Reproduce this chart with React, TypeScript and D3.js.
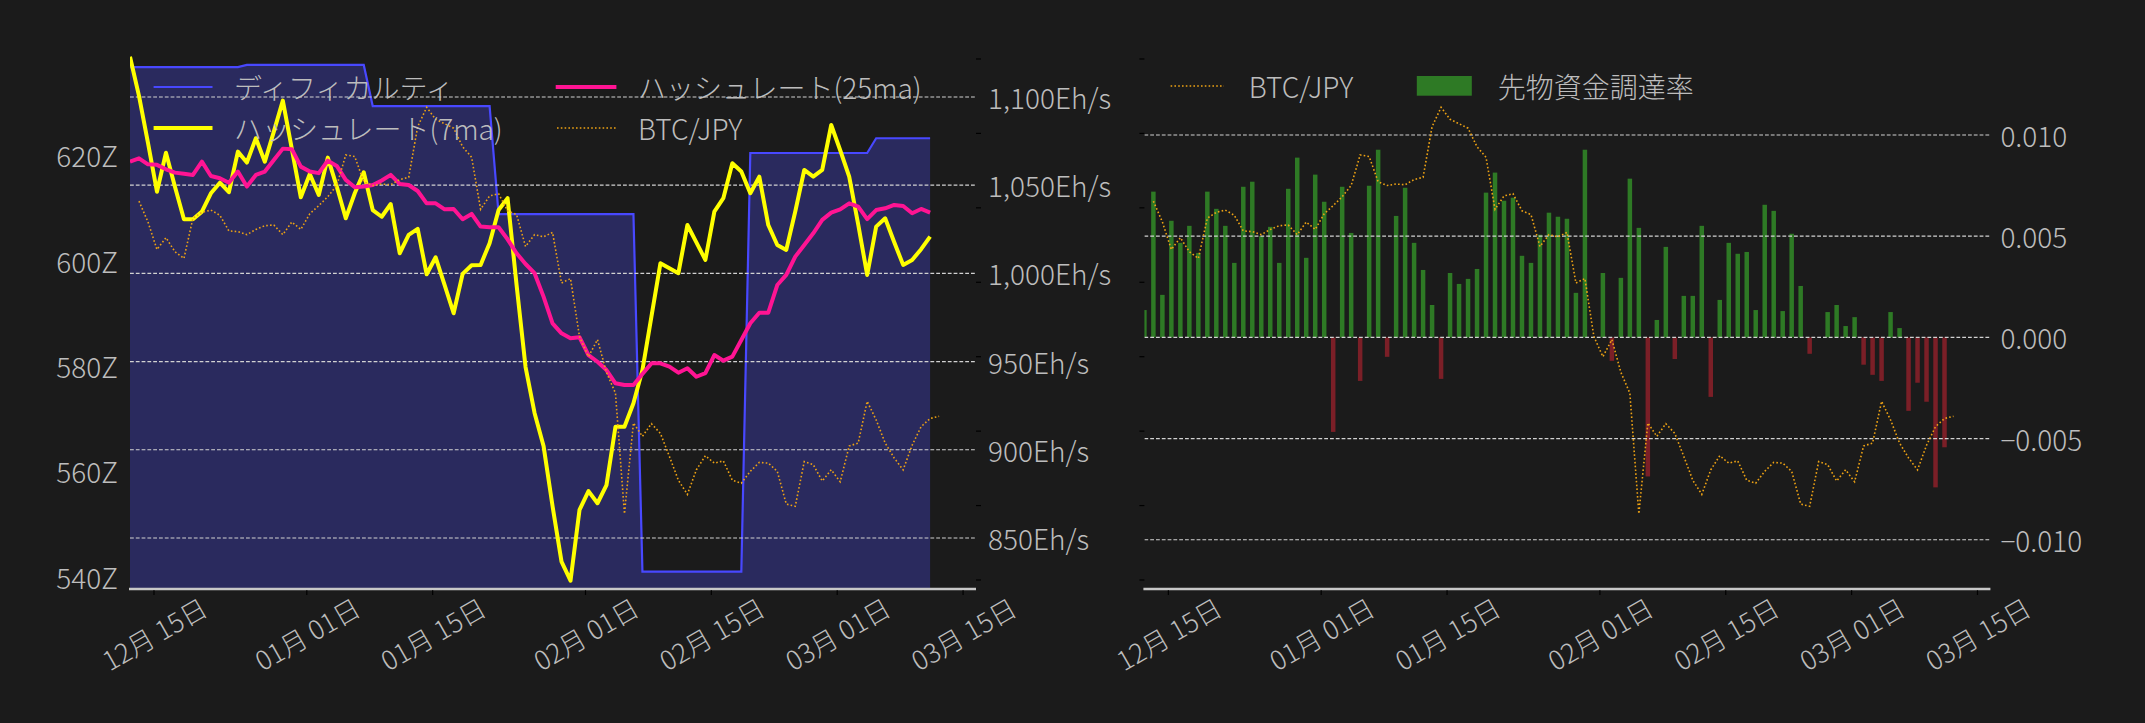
import * as d3 from "d3";

// ---- data (daily) ----
const START = new Date(2025, 11, 12, 8, 0); // first hashrate / funding day
const END = new Date(2026, 2, 16, 10, 30); // right edge of the x axis

// difficulty (Z), days 0..89
const difficulty = [
  636.7, 636.7, 636.7, 636.7, 636.7, 636.7, 636.7, 636.7, 636.7, 636.7, 636.7, 636.7, 636.7,
  637.1, 637.1, 637.1, 637.1, 637.1, 637.1, 637.1, 637.1, 637.1, 637.1, 637.1, 637.1, 637.1, 637.1,
  629.3, 629.3, 629.3, 629.3, 629.3, 629.3, 629.3, 629.3, 629.3, 629.3, 629.3, 629.3, 629.3, 629.3,
  608.8, 608.8, 608.8, 608.8, 608.8, 608.8, 608.8, 608.8, 608.8, 608.8, 608.8, 608.8, 608.8, 608.8, 608.8, 608.8,
  541.0, 541.0, 541.0, 541.0, 541.0, 541.0, 541.0, 541.0, 541.0, 541.0, 541.0, 541.0,
  620.4, 620.4, 620.4, 620.4, 620.4, 620.4, 620.4, 620.4, 620.4, 620.4, 620.4, 620.4, 620.4, 620.4,
  623.2, 623.2, 623.2, 623.2, 623.2, 623.2, 623.2,
];

// hashrate 7-day MA (EH/s), days 0..89
const hashrate7 = [
  1122.8, 1100.6, 1073.9, 1046.3, 1068.4, 1049.1, 1030.7, 1030.7, 1035.0, 1045.4,
  1051.4, 1046.0, 1069.0, 1062.8, 1076.6, 1063.3, 1080.3, 1097.9, 1070.5, 1043.1,
  1056.3, 1044.4, 1065.6, 1049.2, 1031.2, 1045.4, 1057.3, 1035.9, 1032.1, 1039.3,
  1011.4, 1021.8, 1025.2, 999.5, 1009.1, 993.3, 977.4, 999.7, 1004.6, 1004.8,
  1017.1, 1035.9, 1042.6, 993.4, 946.9, 920.9, 902.2, 868.1, 836.6, 825.8,
  865.9, 876.6, 869.7, 880.0, 913.1, 913.1, 926.4, 945.2, 975.5, 1005.7,
  1002.9, 1000.1, 1027.4, 1017.6, 1007.6, 1035.0, 1042.6, 1062.4, 1057.7, 1045.4,
  1054.8, 1027.4, 1016.1, 1013.3, 1035.1, 1058.6, 1054.8, 1058.6, 1084.1, 1069.8,
  1054.8, 1027.8, 999.1, 1026.5, 1031.2, 1017.8, 1004.8, 1007.6, 1013.7, 1020.8,
];

// hashrate 25-day MA (EH/s), days 0..89
const hashrate25 = [
  1063.3, 1065.2, 1061.8, 1061.5, 1059.0, 1057.1, 1056.4, 1055.8, 1063.3, 1055.2,
  1053.9, 1051.4, 1057.7, 1049.2, 1055.8, 1057.7, 1064.3, 1070.7, 1070.4, 1060.5,
  1057.7, 1056.8, 1063.9, 1060.9, 1053.0, 1048.8, 1049.2, 1050.1, 1052.6, 1055.8,
  1050.7, 1050.1, 1046.7, 1039.7, 1039.7, 1036.3, 1036.5, 1030.7, 1033.7, 1026.5,
  1026.1, 1026.1, 1019.3, 1011.4, 1005.3, 1000.1, 986.8, 971.7, 966.0, 963.2,
  963.8, 953.7, 949.9, 945.2, 937.7, 936.7, 936.7, 943.0, 949.0, 949.0,
  947.1, 943.7, 946.2, 941.4, 943.4, 953.7, 950.5, 952.8, 962.2, 971.7,
  977.7, 977.7, 993.4, 999.1, 1009.5, 1016.1, 1022.7, 1030.3, 1034.4, 1036.3,
  1039.7, 1037.8, 1030.7, 1035.9, 1036.9, 1038.8, 1038.2, 1034.1, 1036.5, 1034.4,
];

// BTC/JPY (million JPY), days 1..90
const btcJpy = [
  14.09, 13.81, 13.44, 13.60, 13.41, 13.32, 13.86, 13.94, 13.97, 13.90,
  13.69, 13.68, 13.64, 13.71, 13.76, 13.77, 13.64, 13.81, 13.71, 13.92,
  14.03, 14.15, 14.30, 14.71, 14.69, 14.35, 14.30, 14.32, 14.31, 14.38,
  14.41, 15.09, 15.35, 15.19, 15.13, 15.07, 14.82, 14.68, 13.98, 14.16,
  14.19, 13.96, 13.91, 13.48, 13.64, 13.61, 13.67, 12.99, 13.05, 12.27,
  12.00, 12.23, 11.79, 11.51, 9.89, 11.11, 10.93, 11.10, 10.97, 10.66,
  10.34, 10.15, 10.48, 10.67, 10.57, 10.60, 10.34, 10.30, 10.46, 10.58,
  10.57, 10.46, 10.02, 9.99, 10.59, 10.55, 10.33, 10.48, 10.32, 10.80,
  10.84, 11.40, 11.15, 10.84, 10.64, 10.48, 10.81, 11.06, 11.17, 11.20,
];

// futures funding rate, days 0..89
const fundingRate = [
  0.00135, 0.0072, 0.0021, 0.00576, 0.00467, 0.00551, 0.00417, 0.0072, 0.00635, 0.00551,
  0.00368, 0.00744, 0.00769, 0.005, 0.00546, 0.00368, 0.00734, 0.00888, 0.00393, 0.00804,
  0.0067, -0.00467, 0.00744, 0.00516, -0.00215, 0.00749, 0.00927, -0.00096, 0.006, 0.00739,
  0.00467, 0.00333, 0.0016, -0.00205, 0.00318, 0.00264, 0.00289, 0.00338, 0.00715, 0.00814,
  0.00675, 0.0069, 0.00403, 0.00368, 0.00507, 0.00616, 0.00596, 0.00586, 0.0022, 0.00927,
  0, 0.00318, -0.00116, 0.00294, 0.00784, 0.00541, -0.00687, 0.00086, 0.00447, -0.00107,
  0.00205, 0.00205, 0.00551, -0.00294, 0.00185, 0.00467, 0.00413, 0.00422, 0.00135, 0.00655,
  0.00625, 0.0013, 0.00512, 0.00254, -0.00081, 0, 0.00125, 0.0016, 0.00056, 0.001,
  -0.00135, -0.00185, -0.00215, 0.00125, 0.00046, -0.00363, -0.00224, -0.00318, -0.00741, -0.00543,
];

const xTickDates = [
  new Date(2025, 11, 15), new Date(2026, 0, 1), new Date(2026, 0, 15), new Date(2026, 1, 1),
  new Date(2026, 1, 15), new Date(2026, 2, 1), new Date(2026, 2, 15),
];
const difficultyTicks = [540, 560, 580, 600, 620];
const hashrateTicks = [850, 900, 950, 1000, 1050, 1100];
const btcTicks = [9, 10, 11, 12, 13, 14, 15, 16];
const fundingTicks = [-0.01, -0.005, 0, 0.005, 0.01];

// axis limits
const hashrateLim = [821.1, 1123.2];
const difficultyLim = [537.7, 638.8];
const btcLim = [8.879, 16.04];
const fundingLim = [-0.01243, 0.0139];

// ---- look ----
const W = 2145;
const H = 723;
const TOP = 56;
const BOTTOM = 589;
const FONT = "'Noto Sans CJK JP', 'Noto Sans', sans-serif";
const FS = 28;
const FW = 300;
const BG = "#1b1b1b";
const TEXT = "#bdbdbd";
const GRID = "#d2d2d2";
const DIFF_LINE = "#4848ff";
const DIFF_FILL = "#2a2a5e";
const YELLOW = "#ffff00";
const PINK = "#ff1493";
const ORANGE = "#eda214";
const GREEN = "#2e7a25";
const RED = "#7b1f27";
const AXIS = "#c8c8c8";

const day = (k: number) => d3.timeHour.offset(START, Math.round(k * 24));
const fmtDate = d3.timeFormat("%m月 %d日");
const fmtComma = d3.format(",");
const fmtRate = d3.format(".3f");

function XAxis({ x }: { x: d3.ScaleTime<number, number> }) {
  const [x0, x1] = x.range();
  return (
    <g>
      <line x1={x0 - 1} x2={x1} y1={BOTTOM} y2={BOTTOM} stroke={AXIS} strokeWidth={2.6} />
      {xTickDates.map((d, i) => (
        <g key={i}>
          <line x1={x(d)} x2={x(d)} y1={BOTTOM + 1.3} y2={BOTTOM + 6} stroke="#000" strokeWidth={1.2} />
          <text
            transform={`translate(${x(d)},${633}) rotate(-30)`}
            textAnchor="middle"
            dominantBaseline="central"
            fill={TEXT}
            fontSize={26.5}
          >
            {fmtDate(d)}
          </text>
        </g>
      ))}
    </g>
  );
}

function Grid({ y, ticks, x0, x1 }: { y: (v: number) => number; ticks: number[]; x0: number; x1: number }) {
  return (
    <g>
      {ticks.map((t) => (
        <line key={t} x1={x0} x2={x1} y1={y(t)} y2={y(t)} stroke={GRID} strokeWidth={1.1} strokeDasharray="3.8 2" />
      ))}
    </g>
  );
}

function BtcLine({ x, y }: { x: d3.ScaleTime<number, number>; y: d3.ScaleLinear<number, number> }) {
  const path = d3
    .line<number>()
    .x((_, i) => x(day(i + 1)))
    .y((d) => y(d))(btcJpy);
  return <path d={path ?? ""} fill="none" stroke={ORANGE} strokeWidth={1.6} strokeDasharray="1.6 2.2" />;
}

function HashPanel() {
  const x0 = 130;
  const x1 = 976;
  const x = d3.scaleTime().domain([START, END]).range([x0, x1]);
  const yH = d3.scaleLinear().domain(hashrateLim).range([BOTTOM, TOP]);
  const yD = d3.scaleLinear().domain(difficultyLim).range([BOTTOM, TOP]);
  const yB = d3.scaleLinear().domain(btcLim).range([BOTTOM, TOP]);

  const area = d3
    .area<number>()
    .x((_, i) => x(day(i)))
    .y0(yD(difficultyLim[0]))
    .y1((d) => yD(d))(difficulty);
  const diffLine = d3
    .line<number>()
    .x((_, i) => x(day(i)))
    .y((d) => yD(d))(difficulty);
  const hr = d3
    .line<number>()
    .x((_, i) => x(day(i)))
    .y((d) => yH(d));

  return (
    <g>
      <defs>
        <clipPath id="clip1">
          <rect x={x0} y={TOP - 4} width={x1 - x0} height={BOTTOM - TOP + 4} />
        </clipPath>
      </defs>
      <g clipPath="url(#clip1)">
        <path d={area ?? ""} fill={DIFF_FILL} />
        <path d={diffLine ?? ""} fill="none" stroke={DIFF_LINE} strokeWidth={2.2} />
        <Grid y={yH} ticks={hashrateTicks} x0={x0} x1={x1} />
        <path d={hr(hashrate7) ?? ""} fill="none" stroke={YELLOW} strokeWidth={4} strokeLinejoin="round" />
        <path d={hr(hashrate25) ?? ""} fill="none" stroke={PINK} strokeWidth={4} strokeLinejoin="round" />
        <BtcLine x={x} y={yB} />
      </g>
      {difficultyTicks.map((t) => (
        <text key={t} x={x0 - 12} y={yD(t)} textAnchor="end" dominantBaseline="central" fill={TEXT} fontSize={FS}>
          {t}Z
        </text>
      ))}
      {btcTicks.map((t) => (
        <line key={t} x1={x1} x2={x1 + 5} y1={yB(t)} y2={yB(t)} stroke="#000" strokeWidth={1.2} />
      ))}
      {hashrateTicks.map((t) => (
        <text key={t} x={x1 + 12} y={yH(t)} dominantBaseline="central" fill={TEXT} fontSize={FS}>
          {fmtComma(t)}Eh/s
        </text>
      ))}
      <XAxis x={x} />
      {/* legend */}
      <g fontSize={FS}>
        <line x1={153.6} x2={212.5} y1={87} y2={87} stroke={DIFF_LINE} strokeWidth={2.2} />
        <text x={234} y={87} dominantBaseline="central" fill={TEXT}>ディフィカルティ</text>
        <line x1={153.6} x2={212.5} y1={128} y2={128} stroke={YELLOW} strokeWidth={4} />
        <text x={234} y={128} dominantBaseline="central" fill={TEXT}>ハッシュレート(7ma)</text>
        <line x1={555.7} x2={616.4} y1={87} y2={87} stroke={PINK} strokeWidth={4} />
        <text x={638} y={87} dominantBaseline="central" fill={TEXT}>ハッシュレート(25ma)</text>
        <line x1={557} x2={616.4} y1={128} y2={128} stroke={ORANGE} strokeWidth={1.6} strokeDasharray="1.6 2.2" />
        <text x={638} y={128} dominantBaseline="central" fill={TEXT}>BTC/JPY</text>
      </g>
    </g>
  );
}

function FundingPanel() {
  const x0 = 1144.4;
  const x1 = 1990.4;
  const x = d3.scaleTime().domain([START, END]).range([x0, x1]);
  const yF = d3.scaleLinear().domain(fundingLim).range([BOTTOM, TOP]);
  const yB = d3.scaleLinear().domain(btcLim).range([BOTTOM, TOP]);
  const bw = x(d3.timeHour.offset(START, 12.7)) - x(START);

  return (
    <g>
      <defs>
        <clipPath id="clip2">
          <rect x={x0} y={TOP - 4} width={x1 - x0} height={BOTTOM - TOP + 4} />
        </clipPath>
      </defs>
      <g clipPath="url(#clip2)">
        {fundingRate.map((v, i) => (
          <rect
            key={i}
            x={x(day(i)) - bw / 2}
            width={bw}
            y={Math.min(yF(v), yF(0))}
            height={Math.abs(yF(v) - yF(0))}
            fill={v >= 0 ? GREEN : RED}
          />
        ))}
        <Grid y={yF} ticks={fundingTicks} x0={x0} x1={x1} />
        <BtcLine x={x} y={yB} />
      </g>
      {btcTicks.map((t) => (
        <line key={t} x1={x0 - 5} x2={x0} y1={yB(t)} y2={yB(t)} stroke="#000" strokeWidth={1.2} />
      ))}
      {fundingTicks.map((t) => (
        <text key={t} x={x1 + 10} y={yF(t)} dominantBaseline="central" fill={TEXT} fontSize={FS}>
          {fmtRate(t)}
        </text>
      ))}
      <XAxis x={x} />
      <g fontSize={FS}>
        <line x1={1170.6} x2={1224} y1={86} y2={86} stroke={ORANGE} strokeWidth={1.6} strokeDasharray="1.6 2.2" />
        <text x={1248.8} y={86} dominantBaseline="central" fill={TEXT}>BTC/JPY</text>
        <rect x={1416.8} y={76} width={55} height={19.7} fill={GREEN} />
        <text x={1497.7} y={86} dominantBaseline="central" fill={TEXT}>先物資金調達率</text>
      </g>
    </g>
  );
}

export default function App() {
  return (
    <svg
      width={W}
      height={H}
      viewBox={`0 0 ${W} ${H}`}
      style={{ position: "absolute", left: 0, top: 0, display: "block" }}
      fontFamily={FONT}
      fontWeight={FW}
    >
      <rect width={W} height={H} fill={BG} />
      <HashPanel />
      <FundingPanel />
    </svg>
  );
}
